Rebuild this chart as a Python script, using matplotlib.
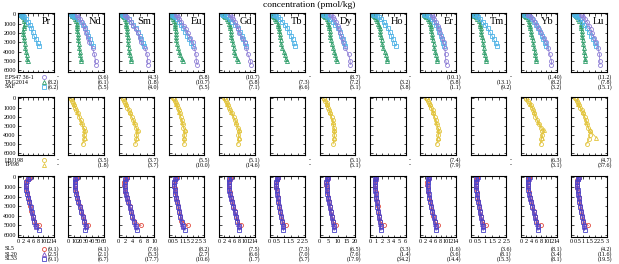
import numpy as np
import matplotlib.pyplot as plt
from matplotlib.lines import Line2D
from matplotlib.ticker import FuncFormatter

plt.rcParams['font.family'] = ['Liberation Serif', 'DejaVu Serif']

elements = ['Pr', 'Nd', 'Sm', 'Eu', 'Gd', 'Tb', 'Dy', 'Ho', 'Er', 'Tm', 'Yb', 'Lu']
xmax = [14, 60, 10, 3, 14, 2.5, 20, 6, 14, 2.5, 14, 3]
xstep = [2, 10, 2, 0.5, 2, 0.5, 5, 1, 2, 0.5, 2, 0.5]

# ---- row 1 stations ----
dep_a = [20, 100, 250, 500, 800, 1200, 1600, 2000, 2500, 3000, 3600, 4300, 5000, 5400]
dep_b = [10, 60, 150, 300, 500, 750, 1000, 1250, 1500, 1800, 2100, 2400, 2800, 3200, 3600, 4000, 4400, 4800, 5000]
dep_c = [5, 30, 80, 150, 300, 500, 800, 1100, 1500, 1900, 2300, 2700, 3100, 3400]

st_a = {  # purple circles
    'Nd': [14, 15, 17, 20, 23, 26, 28, 30, 32.5, 35, 41, 44, 46, 46.5],
    'Sm': [1.7, 1.9, 2.3, 2.8, 3.5, 4.1, 4.8, 5.4, 5.9, 6.3, 7.4, 8.0, 8.2, 8.2],
    'Eu': [0.6, 0.65, 0.75, 0.88, 1.05, 1.25, 1.45, 1.6, 1.8, 2.0, 2.15, 2.28, 2.32, 2.4],
    'Gd': [4.2, 4.4, 4.9, 5.6, 6.3, 7.0, 7.6, 8.0, 9.0, 10.0, 10.7, 11.3, 12.3, 12.4],
    'Dy': [6.0, 6.4, 7.2, 8.2, 9.2, 10.0, 10.8, 11.4, 12.4, 13.3, 14.3, 16.2, 17.1, 17.2],
    'Er': [4.5, 4.7, 5.0, 5.4, 6.0, 6.8, 7.4, 7.9, 8.6, 9.2, 9.6, 9.9, 10.0, 10.3],
    'Yb': [2.7, 3.2, 3.9, 4.6, 5.4, 6.3, 7.2, 8.0, 9.0, 10.0, 10.6, 11.3, 12.0, 12.0],
    'Lu': [0.8, 0.88, 1.0, 1.15, 1.32, 1.5, 1.65, 1.76, 1.95, 2.1, 2.25, 2.38, 2.4, 2.42],
}
st_b = {  # green triangles
    'Pr': [1.4, 1.3, 1.5, 1.8, 2.2, 2.5, 2.7, 2.5, 2.2, 2.1, 2.1, 2.2, 2.4, 2.7, 2.9, 3.1, 3.4, 3.6, 3.8],
    'Nd': [6, 5.5, 7, 9, 11, 13, 14, 14.5, 15, 15.5, 16, 16.5, 17, 17.5, 18.5, 19, 20, 21.5, 22],
    'Sm': [1.0, 0.9, 1.2, 1.5, 1.8, 2.0, 2.1, 2.2, 2.3, 2.4, 2.5, 2.6, 2.6, 2.7, 2.8, 3.0, 3.2, 3.4, 3.5],
    'Eu': [0.2, 0.2, 0.25, 0.3, 0.38, 0.45, 0.48, 0.52, 0.55, 0.58, 0.6, 0.6, 0.62, 0.68, 0.75, 0.85, 0.95, 1.1, 1.2],
    'Gd': [1.5, 1.4, 1.8, 2.3, 2.9, 3.5, 4.0, 4.2, 4.4, 4.5, 4.6, 4.8, 5.1, 5.4, 5.7, 6.0, 6.4, 7.0, 7.6],
    'Tb': [0.22, 0.2, 0.25, 0.3, 0.38, 0.45, 0.6, 0.62, 0.66, 0.7, 0.72, 0.74, 0.78, 0.82, 0.9, 1.0, 1.08, 1.15, 1.2],
    'Dy': [2.0, 1.8, 2.4, 3.0, 3.8, 4.4, 4.8, 5.0, 5.3, 5.6, 5.8, 6.0, 6.3, 6.8, 7.4, 8.2, 8.8, 9.4, 9.6],
    'Ho': [0.5, 0.45, 0.6, 0.75, 0.95, 1.2, 1.4, 1.5, 1.6, 1.7, 1.75, 1.85, 1.95, 2.05, 2.2, 2.45, 2.65, 2.8, 2.9],
    'Er': [1.4, 1.3, 1.8, 2.3, 2.8, 3.4, 3.8, 4.0, 4.1, 4.3, 4.5, 4.7, 4.9, 5.2, 5.5, 5.8, 6.1, 6.4, 6.6],
    'Tm': [0.2, 0.18, 0.25, 0.35, 0.45, 0.55, 0.65, 0.68, 0.7, 0.74, 0.76, 0.8, 0.84, 0.88, 0.92, 0.96, 1.0, 1.05, 1.08],
    'Yb': [1.3, 1.2, 1.6, 2.1, 2.6, 3.0, 3.3, 3.5, 3.7, 3.9, 4.1, 4.3, 4.6, 4.9, 5.2, 5.4, 5.6, 5.8, 6.0],
    'Lu': [0.3, 0.28, 0.36, 0.45, 0.55, 0.68, 0.78, 0.82, 0.85, 0.88, 0.9, 0.93, 0.97, 1.0, 1.04, 1.08, 1.12, 1.16, 1.18],
}
st_c = {  # blue squares
    'Pr': [0.9, 1.2, 1.6, 1.9, 2.4, 3.2, 3.9, 4.6, 5.3, 5.8, 6.3, 7.0, 7.7, 8.4],
    'Nd': [5, 6, 7.5, 9, 12, 16, 21, 25, 29, 32, 34, 36, 39, 41],
    'Sm': [0.9, 1.1, 1.4, 1.7, 2.2, 2.8, 3.5, 4.1, 4.8, 5.4, 5.9, 6.3, 6.9, 7.2],
    'Eu': [0.2, 0.25, 0.32, 0.4, 0.52, 0.68, 0.85, 1.0, 1.2, 1.38, 1.55, 1.7, 1.88, 2.02],
    'Gd': [1.3, 1.6, 2.0, 2.5, 3.3, 4.1, 5.2, 6.2, 7.4, 8.3, 9.0, 9.5, 10.1, 10.6],
    'Tb': [0.22, 0.28, 0.36, 0.45, 0.58, 0.72, 0.9, 1.07, 1.25, 1.4, 1.52, 1.62, 1.72, 1.78],
    'Dy': [1.8, 2.3, 3.0, 3.8, 4.9, 6.0, 7.5, 8.6, 10.0, 11.2, 12.1, 12.9, 13.6, 14.2],
    'Ho': [0.5, 0.65, 0.85, 1.1, 1.45, 1.85, 2.3, 2.6, 3.0, 3.35, 3.6, 3.85, 4.1, 4.3],
    'Er': [1.3, 1.7, 2.2, 2.8, 3.6, 4.4, 5.3, 6.0, 6.8, 7.5, 8.0, 8.5, 9.0, 9.3],
    'Tm': [0.2, 0.26, 0.33, 0.42, 0.54, 0.68, 0.85, 1.0, 1.2, 1.36, 1.5, 1.62, 1.76, 1.85],
    'Yb': [1.2, 1.6, 2.1, 2.7, 3.5, 4.3, 5.2, 6.0, 6.8, 7.5, 8.2, 8.8, 9.5, 10.0],
    'Lu': [0.25, 0.3, 0.38, 0.48, 0.6, 0.75, 0.92, 1.08, 1.3, 1.5, 1.68, 1.84, 2.0, 2.1],
}

# ---- row 2 stations ----
dep_y = [10, 100, 250, 500, 750, 1000, 1300, 1600, 2000, 2400, 2800, 3200, 3600, 4000, 4400, 5000]
dep_yt = [600, 1500, 2600, 3500, 4300]
st_y = {  # yellow circles
    'Nd': [4.8, 5.4, 6.6, 8.4, 10.2, 11.4, 13.8, 15.6, 18.6, 21, 23.4, 25.8, 28.8, 25.8, 26.4, 24],
    'Sm': [1.2, 1.3, 1.6, 1.9, 2.2, 2.5, 2.8, 3.2, 3.7, 4.1, 4.5, 4.9, 5.4, 5.0, 5.0, 4.6],
    'Eu': [0.36, 0.39, 0.48, 0.57, 0.66, 0.75, 0.84, 0.9, 0.99, 1.08, 1.17, 1.23, 1.38, 1.26, 1.29, 1.26],
    'Gd': [2.0, 2.1, 2.5, 2.9, 3.4, 3.8, 4.3, 4.9, 5.7, 6.3, 6.7, 7.3, 8.0, 7.6, 7.7, 7.3],
    'Dy': [2.4, 2.6, 3.2, 3.8, 4.2, 4.8, 5.4, 5.8, 6.6, 7.2, 7.6, 8.0, 8.2, 8.2, 8.0, 7.5],
    'Er': [2.4, 2.5, 2.9, 3.4, 3.9, 4.3, 4.8, 5.0, 5.6, 6.0, 6.4, 6.9, 7.3, 7.0, 6.9, 6.4],
    'Yb': [2.0, 2.1, 2.7, 3.2, 3.9, 4.5, 4.9, 5.2, 5.7, 6.3, 7.0, 7.7, 8.4, 8.1, 8.0, 7.7],
    'Lu': [0.33, 0.36, 0.45, 0.57, 0.66, 0.75, 0.87, 0.99, 1.14, 1.23, 1.32, 1.41, 1.59, 1.56, 1.5, 1.29],
}
st_yt = {  # yellow triangles
    'Nd': [9.5, 15, 22, 27, 27.5],
    'Sm': [2.1, 3.1, 4.3, 5.2, 5.1],
    'Eu': [0.62, 0.88, 1.12, 1.32, 1.3],
    'Gd': [3.1, 4.7, 6.5, 7.8, 7.8],
    'Dy': [4.0, 5.7, 7.3, 8.1, 8.1],
    'Er': [3.6, 4.9, 6.2, 7.1, 7.0],
    'Yb': [3.5, 5.1, 6.7, 9.0, 8.3],
    'Lu': [0.6, 0.95, 1.27, 1.55, 2.1],
}

# ---- row 3 stations ----
dep_r = [10, 100, 300, 500, 800, 1100, 1500, 2000, 2500, 3000, 3500, 4000, 4500, 5000]
dep_t = [10, 150, 400, 700, 1000, 1400, 1800, 2200, 2700, 3200, 3700, 4200, 4800, 5200]
dep_s = [5, 200, 500, 900, 1300, 1700, 2100, 2600, 3100, 3600, 4100, 4600, 5100, 5500]
st_r = {
    'Pr': [4.6, 4.2, 3.6, 3.1, 3.0, 3.2, 3.5, 3.9, 4.4, 4.8, 5.3, 5.8, 6.4, 8.4],
    'Nd': [14, 13, 11.5, 10.5, 10.5, 11.5, 13, 15, 17, 19.5, 22, 24.5, 27, 33],
    'Sm': [2.3, 2.1, 1.8, 1.6, 1.6, 1.7, 1.9, 2.3, 2.7, 3.1, 3.5, 3.9, 4.4, 6.3],
    'Eu': [0.62, 0.57, 0.5, 0.45, 0.45, 0.48, 0.53, 0.6, 0.68, 0.77, 0.86, 0.96, 1.06, 1.6],
    'Gd': [4.6, 4.3, 3.9, 3.7, 3.7, 3.9, 4.2, 4.6, 5.1, 5.6, 6.1, 6.6, 7.2, 8.6],
    'Tb': [0.58, 0.55, 0.5, 0.47, 0.47, 0.49, 0.52, 0.57, 0.63, 0.69, 0.75, 0.82, 0.9, 1.15],
    'Dy': [4.6, 4.3, 3.9, 3.7, 3.7, 3.9, 4.2, 4.6, 5.1, 5.6, 6.1, 6.7, 7.3, 9.2],
    'Ho': [1.05, 0.98, 0.88, 0.82, 0.82, 0.86, 0.93, 1.03, 1.14, 1.26, 1.38, 1.52, 1.66, 2.3],
    'Er': [3.4, 3.2, 2.9, 2.7, 2.7, 2.9, 3.1, 3.5, 3.9, 4.3, 4.7, 5.1, 5.6, 6.8],
    'Tm': [0.46, 0.43, 0.39, 0.37, 0.37, 0.39, 0.42, 0.47, 0.53, 0.59, 0.65, 0.72, 0.8, 1.07],
    'Yb': [3.3, 3.1, 2.8, 2.6, 2.6, 2.8, 3.1, 3.5, 4.0, 4.5, 5.0, 5.5, 6.1, 7.7],
    'Lu': [0.62, 0.58, 0.52, 0.49, 0.49, 0.52, 0.56, 0.62, 0.69, 0.76, 0.84, 0.92, 1.01, 1.42],
}
st_t = {
    'Pr': [4.4, 4.0, 3.4, 3.2, 3.2, 3.5, 3.8, 4.2, 4.6, 5.1, 5.6, 6.1, 6.8, 7.0],
    'Nd': [13, 12, 11, 10.5, 11, 12.5, 14, 16, 18.5, 21, 23.5, 26, 28.5, 30],
    'Sm': [2.2, 2.0, 1.7, 1.6, 1.7, 1.9, 2.1, 2.5, 2.9, 3.3, 3.7, 4.1, 4.7, 4.9],
    'Eu': [0.6, 0.55, 0.48, 0.46, 0.48, 0.52, 0.57, 0.64, 0.73, 0.82, 0.91, 1.0, 1.12, 1.18],
    'Gd': [4.4, 4.1, 3.8, 3.7, 3.8, 4.0, 4.3, 4.8, 5.3, 5.8, 6.3, 6.9, 7.5, 7.7],
    'Tb': [0.56, 0.53, 0.49, 0.47, 0.48, 0.51, 0.55, 0.6, 0.66, 0.72, 0.78, 0.85, 0.93, 0.97],
    'Dy': [4.4, 4.1, 3.8, 3.7, 3.8, 4.0, 4.4, 4.8, 5.3, 5.8, 6.4, 7.0, 7.6, 7.9],
    'Ho': [1.0, 0.94, 0.86, 0.83, 0.85, 0.9, 0.97, 1.07, 1.18, 1.3, 1.43, 1.56, 1.72, 1.8],
    'Er': [3.3, 3.1, 2.8, 2.7, 2.8, 3.0, 3.3, 3.6, 4.0, 4.4, 4.8, 5.3, 5.8, 6.0],
    'Tm': [0.45, 0.42, 0.38, 0.37, 0.38, 0.41, 0.45, 0.5, 0.56, 0.62, 0.68, 0.75, 0.83, 0.88],
    'Yb': [3.2, 3.0, 2.7, 2.6, 2.7, 3.0, 3.3, 3.7, 4.2, 4.7, 5.2, 5.7, 6.4, 6.6],
    'Lu': [0.6, 0.56, 0.51, 0.49, 0.5, 0.54, 0.58, 0.64, 0.71, 0.79, 0.87, 0.95, 1.05, 1.1],
}
st_s = {
    'Pr': [4.8, 3.9, 3.3, 3.1, 3.3, 3.6, 4.0, 4.5, 5.0, 5.5, 6.0, 6.5, 7.2, 8.2],
    'Nd': [14.5, 12, 10.5, 10.5, 11.5, 13, 14.5, 17, 19.5, 22, 24.5, 27, 29.5, 29],
    'Sm': [2.4, 1.9, 1.7, 1.7, 1.8, 2.0, 2.3, 2.7, 3.1, 3.5, 3.9, 4.3, 4.8, 5.2],
    'Eu': [0.65, 0.52, 0.47, 0.46, 0.5, 0.55, 0.61, 0.7, 0.79, 0.88, 0.98, 1.08, 1.2, 1.35],
    'Gd': [4.8, 4.0, 3.7, 3.8, 4.0, 4.3, 4.6, 5.1, 5.6, 6.1, 6.7, 7.2, 7.8, 7.9],
    'Tb': [0.6, 0.52, 0.48, 0.48, 0.5, 0.53, 0.57, 0.62, 0.68, 0.75, 0.81, 0.88, 0.95, 0.98],
    'Dy': [4.8, 4.0, 3.7, 3.8, 4.0, 4.3, 4.7, 5.2, 5.7, 6.2, 6.8, 7.4, 8.0, 8.1],
    'Ho': [1.08, 0.9, 0.84, 0.84, 0.88, 0.94, 1.02, 1.12, 1.24, 1.37, 1.5, 1.63, 1.78, 1.82],
    'Er': [3.5, 3.0, 2.8, 2.8, 3.0, 3.2, 3.5, 3.9, 4.3, 4.7, 5.2, 5.6, 6.1, 6.2],
    'Tm': [0.48, 0.4, 0.37, 0.37, 0.4, 0.43, 0.47, 0.52, 0.58, 0.64, 0.71, 0.78, 0.86, 0.88],
    'Yb': [3.4, 2.9, 2.7, 2.7, 2.9, 3.2, 3.5, 4.0, 4.5, 5.0, 5.5, 6.0, 6.6, 6.7],
    'Lu': [0.64, 0.54, 0.5, 0.5, 0.53, 0.57, 0.62, 0.69, 0.76, 0.84, 0.92, 1.0, 1.09, 1.12],
}

# numbers printed under each panel
r1_txt = [['-', '(3.6)', '(4.3)', '(5.8)', '(10.7)', '-', '(8.7)', '-', '(10.1)', '-', '(1.40)', '(11.2)'],
          ['(8.2)', '(6.1)', '(1.8)', '(10.7)', '(5.8)', '(7.3)', '(7.2)', '(3.2)', '(5.8)', '(13.1)', '(8.2)', '(7.8)'],
          ['(6.2)', '(5.5)', '(4.0)', '(5.5)', '(7.1)', '(6.6)', '(5.1)', '(3.8)', '(1.1)', '(9.2)', '(3.2)', '(15.1)']]
r2_txt = [['-', '(3.5)', '(3.7)', '(5.5)', '(5.1)', '-', '(5.1)', '-', '(7.4)', '-', '(6.3)', '(4.7)'],
          ['-', '(1.8)', '(3.7)', '(10.0)', '(14.6)', '-', '(5.1)', '-', '(7.9)', '-', '(3.1)', '(37.6)']]
r3_txt = [['(9.1)', '(4.1)', '(7.6)', '(8.2)', '(7.5)', '(7.3)', '(6.5)', '(3.3)', '(1.6)', '(3.6)', '(8.1)', '(4.2)'],
          ['(2.5)', '(2.1)', '(5.3)', '(2.7)', '(6.6)', '(7.0)', '(7.6)', '(1.4)', '(3.6)', '(8.1)', '(3.4)', '(11.6)'],
          ['(9.1)', '(6.7)', '(17.7)', '(10.6)', '(1.7)', '(5.7)', '(17.9)', '(34.2)', '(14.4)', '(15.3)', '(8.1)', '(19.5)']]

r1_names = ['EPS47 36-1', 'TAG2014', 'SAF']
r2_names = ['LBJ198', 'TPI98']
r3_names = ['SL5', 'SL20', 'SL33']

c_pur, c_grn, c_blu = '#8f7fd6', '#2f9e6a', '#4fb3e6'
c_yel = '#e2c43c'
c_red, c_vio, c_ind = '#e0483c', '#7a4fc4', '#4a44c8'

W, H = 619, 264
fig = plt.figure(figsize=(W / 100, H / 100), dpi=100)

rows_px = [(13, 72), (97, 155), (176, 237)]
fs = 4.3


def fx(x):
    return x / W


def fy(y):
    return 1 - y / H


def prof(ax, x, d, c, m, ms=2.9):
    ax.plot(x, d, color=c, lw=0.6, marker=m, ms=ms, mfc='none', mew=0.6)


fmt = FuncFormatter(lambda v, p: '%g' % v)

for r, (top, bot) in enumerate(rows_px):
    for i, el in enumerate(elements):
        left = 18 + 50.3 * i
        ax = fig.add_axes([fx(left), fy(bot), 35.5 / W, (bot - top) / H])
        if r == 0:
            if el in st_b:
                prof(ax, st_b[el], dep_b, c_grn, '^')
            if el in st_c:
                prof(ax, st_c[el], dep_c, c_blu, 's')
            if el in st_a:
                prof(ax, st_a[el], dep_a, c_pur, 'o')
            ax.text(0.93, 0.93, el, transform=ax.transAxes, ha='right', va='top', fontsize=7.5)
        elif r == 1:
            if el in st_y:
                prof(ax, st_y[el], dep_y, c_yel, 'o')
                prof(ax, st_yt[el], dep_yt, c_yel, '^')
        else:
            prof(ax, st_r[el], dep_r, c_red, 'o')
            prof(ax, st_t[el], dep_t, c_vio, '^')
            prof(ax, st_s[el], dep_s, c_ind, 's')
        ax.set_xlim(0, xmax[i])
        ax.set_ylim(6200, -150)
        ax.set_xticks(np.arange(0, xmax[i] + xstep[i] / 2, xstep[i]))
        ax.set_yticks(range(0, 7000, 1000))
        ax.xaxis.set_major_formatter(fmt)
        ax.tick_params(direction='in', top=True, right=True, length=1.8, width=0.5,
                       labelsize=4.5, pad=1.5)
        if i > 0:
            ax.tick_params(labelleft=False)
        if r < 2:
            ax.tick_params(labelbottom=False)
        for s in ax.spines.values():
            s.set_linewidth(0.8)

        # numbers under the panel
        txt = [r1_txt, r2_txt, r3_txt][r]
        ys = [[77, 82, 87], [160, 165], [249, 254, 259]][r]
        for k, t in enumerate(txt):
            fig.text(fx(left + 41), fy(ys[k]), t[i], ha='right', va='center', fontsize=fs)

# legends in first column
leg = [
    (r1_names, [(c_pur, 'o'), (c_grn, '^'), (c_blu, 's')], [77, 82, 87]),
    (r2_names, [(c_yel, 'o'), (c_yel, '^')], [160, 165]),
    (r3_names, [(c_red, 'o'), (c_vio, '^'), (c_ind, 's')], [249, 254, 259]),
]
for names, styles, ys in leg:
    for name, (c, m), y in zip(names, styles, ys):
        fig.text(fx(5), fy(y), name, ha='left', va='center', fontsize=fs)
        fig.add_artist(Line2D([fx(44)], [fy(y)], transform=fig.transFigure, color=c,
                              marker=m, ms=2.9, mfc='none', mew=0.6, lw=0))

fig.text(0.5, fy(5), 'concentration (pmol/kg)', ha='center', va='center', fontsize=6.8)

fig.savefig('out.png', dpi=100)
